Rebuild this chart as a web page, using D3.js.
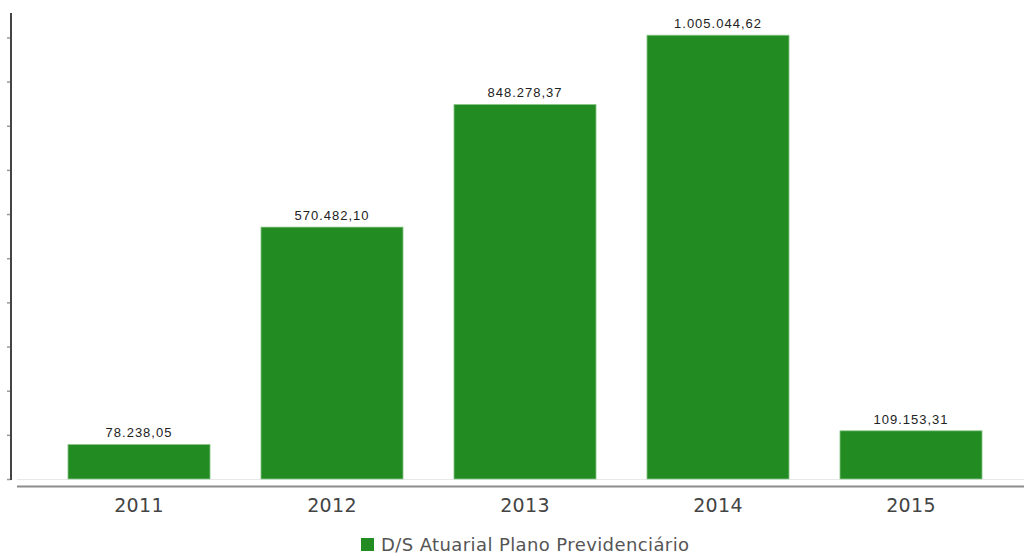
<!DOCTYPE html>
<html>
<head>
<meta charset="utf-8">
<script src="https://cdn.jsdelivr.net/npm/d3@7"></script>
<style>
  html, body { margin: 0; padding: 0; background: #fff; }
  svg { display: block; }
</style>
</head>
<body>
<svg id="chart" width="1024" height="556"></svg>
<script>
// Data
const years = ["2011", "2012", "2013", "2014", "2015"];
const values = [78238.05, 570482.10, 848278.37, 1005044.62, 109153.31];
const valueLabels = ["78.238,05", "570.482,10", "848.278,37", "1.005.044,62", "109.153,31"];
const seriesName = "D/S Atuarial Plano Previdenciário";
const tickValues = d3.range(0, 1100000, 100000);

const svg = d3.select("#chart");
const color = "#228b22";

const baseY = 479;
const topY = 13;

const x = d3.scaleBand()
  .domain(years)
  .range([42.5, 1007.5])
  .paddingInner(0.264)
  .paddingOuter(0.132);

const y = d3.scaleLinear()
  .domain([0, d3.max(values) * 1.05])
  .range([baseY, topY]);

// Light baseline across the plot
svg.append("line")
  .attr("x1", 17).attr("x2", 1024)
  .attr("y1", baseY + 0.5).attr("y2", baseY + 0.5)
  .attr("stroke", "#e8e8e8").attr("stroke-width", 1);

// Category axis line
svg.append("line")
  .attr("x1", 17).attr("x2", 1024)
  .attr("y1", 486.5).attr("y2", 486.5)
  .attr("stroke", "#8c8c8c").attr("stroke-width", 2);

// Value axis (ticks only, no labels)
const yAxis = d3.axisLeft(y)
  .tickValues(tickValues)
  .tickSize(4)
  .tickFormat("");
const yg = svg.append("g")
  .attr("transform", "translate(11,0)")
  .call(yAxis);
yg.select(".domain").remove();
yg.selectAll(".tick line").attr("stroke", "#999").attr("stroke-width", 1.5);
svg.append("line")
  .attr("x1", 11).attr("x2", 11)
  .attr("y1", topY).attr("y2", baseY + 1)
  .attr("stroke", "#444").attr("stroke-width", 2);

// Bars
svg.append("g").selectAll("rect")
  .data(values)
  .join("rect")
  .attr("x", (d, i) => x(years[i]))
  .attr("y", d => y(d))
  .attr("width", x.bandwidth())
  .attr("height", d => baseY - y(d))
  .attr("fill", color)
  .attr("stroke", "#8fc98f")
  .attr("stroke-width", 0.8);

// Value labels
svg.append("g").selectAll("text")
  .data(values)
  .join("text")
  .attr("x", (d, i) => x(years[i]) + x.bandwidth() / 2)
  .attr("y", d => y(d) - 7)
  .attr("text-anchor", "middle")
  .attr("font-family", "'Liberation Sans', Arial, sans-serif")
  .attr("font-size", 13)
  .attr("letter-spacing", 1)
  .attr("fill", "#222")
  .text((d, i) => valueLabels[i]);

// Category labels
const xAxis = d3.axisBottom(x).tickSize(0).tickPadding(0);
const xg = svg.append("g")
  .attr("transform", "translate(0,490)")
  .call(xAxis);
xg.select(".domain").remove();
xg.selectAll("text")
  .attr("dy", "0")
  .attr("y", 22)
  .attr("font-family", "'DejaVu Sans', Verdana, sans-serif")
  .attr("font-size", 19)
  .attr("letter-spacing", 0.3)
  .attr("fill", "#444");

// Legend
const legend = svg.append("g").attr("transform", "translate(361,538)");
legend.append("rect")
  .attr("x", 0).attr("y", 0)
  .attr("width", 13).attr("height", 13)
  .attr("fill", color);
legend.append("text")
  .attr("x", 20).attr("y", 13)
  .attr("font-family", "'DejaVu Sans', Verdana, sans-serif")
  .attr("font-size", 18)
  .attr("letter-spacing", 0.4)
  .attr("fill", "#555")
  .text(seriesName);
</script>
</body>
</html>
